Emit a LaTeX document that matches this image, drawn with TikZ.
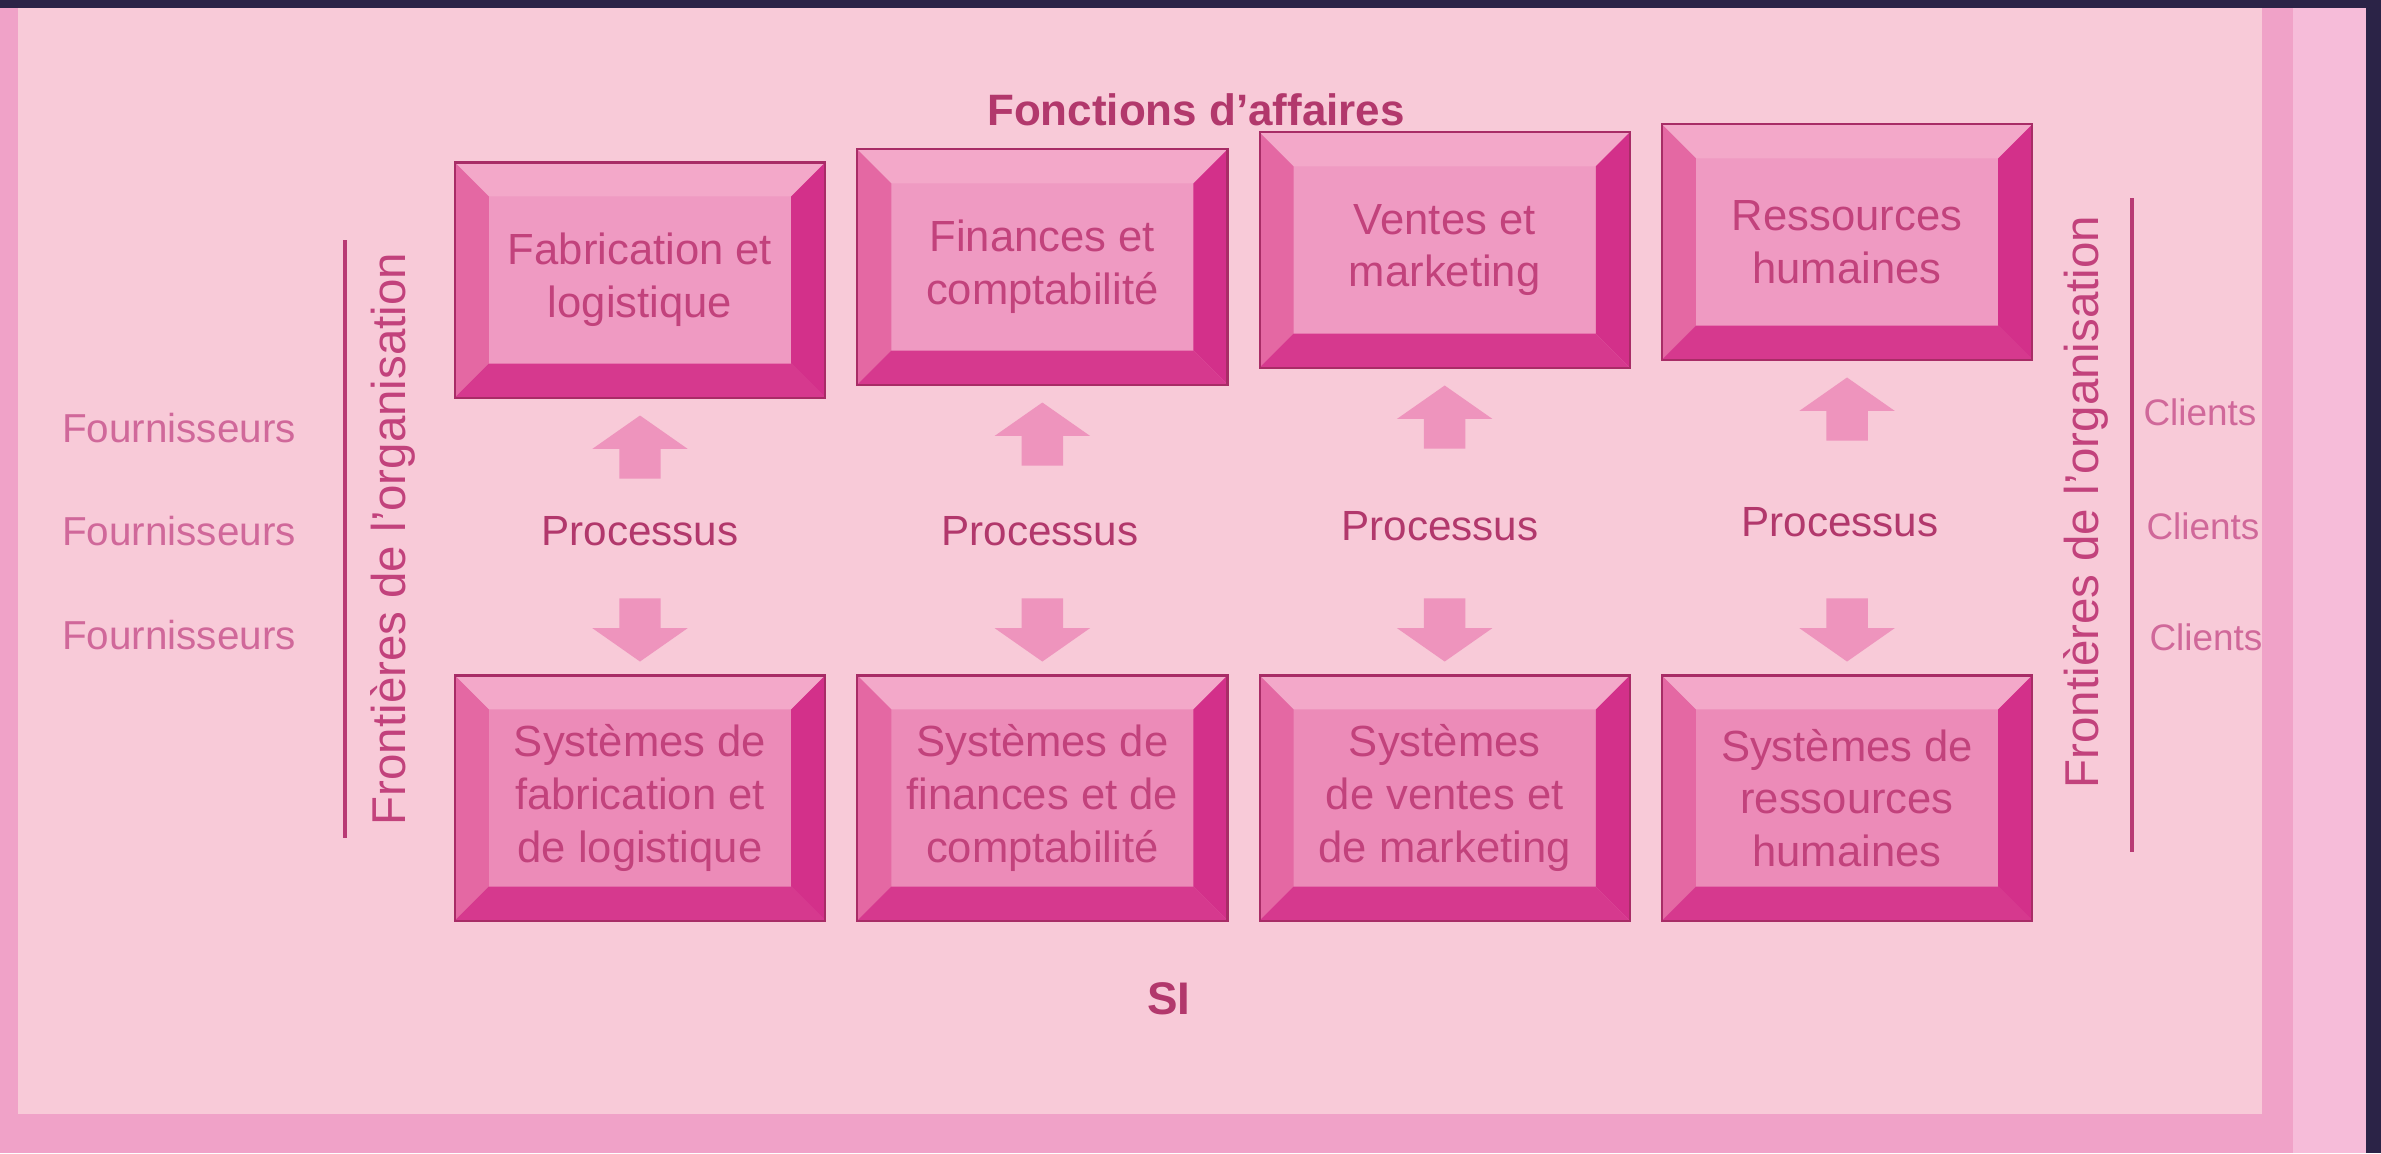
\documentclass[tikz,border=0pt]{standalone}
\usepackage{fontspec}
\setmainfont{Liberation Sans}
\usetikzlibrary{positioning,shapes.arrows}

\definecolor{papier}{HTML}{F8CAD8}
\definecolor{bord}{HTML}{F0A2C8}
\definecolor{bordclair}{HTML}{F6BCD9}
\definecolor{bande}{HTML}{2B2347}
\definecolor{boxface}{HTML}{EC8BB8}
\definecolor{boxfaceclair}{HTML}{EF9AC2}
\definecolor{bevtop}{HTML}{F3A8C9}
\definecolor{bevleft}{HTML}{E468A3}
\definecolor{bevright}{HTML}{D3308A}
\definecolor{bevbot}{HTML}{D6398E}
\definecolor{boxline}{HTML}{A82C66}
\definecolor{boxtext}{HTML}{C2427C}
\definecolor{textdark}{HTML}{B2386C}
\definecolor{sidetext}{HTML}{D0689A}
\definecolor{flechecol}{HTML}{EE94BD}
\definecolor{trait}{HTML}{B83A74}

\def\bev{0.34cm}

\tikzset{
  boite/.style={draw=boxline, line width=0.6pt, fill=boxface, text=boxtext,
    minimum width=3.7cm, minimum height=2.45cm, inner sep=0pt, align=center,
    font=\fontsize{12.4}{15}\selectfont,
    path picture={
      \fill[bevtop] (path picture bounding box.north west) -- (path picture bounding box.north east)
        -- ([shift={(-\bev,-\bev)}]path picture bounding box.north east)
        -- ([shift={(\bev,-\bev)}]path picture bounding box.north west) -- cycle;
      \fill[bevleft] (path picture bounding box.north west) -- ([shift={(\bev,-\bev)}]path picture bounding box.north west)
        -- ([shift={(\bev,\bev)}]path picture bounding box.south west)
        -- (path picture bounding box.south west) -- cycle;
      \fill[bevright] (path picture bounding box.north east) -- (path picture bounding box.south east)
        -- ([shift={(-\bev,\bev)}]path picture bounding box.south east)
        -- ([shift={(-\bev,-\bev)}]path picture bounding box.north east) -- cycle;
      \fill[bevbot] (path picture bounding box.south west) -- (path picture bounding box.south east)
        -- ([shift={(-\bev,\bev)}]path picture bounding box.south east)
        -- ([shift={(\bev,\bev)}]path picture bounding box.south west) -- cycle;
    }},
  fonction/.style={boite, fill=boxfaceclair, minimum height=2.35cm},
  systeme/.style={boite},
  fleche/.style={single arrow, fill=flechecol, draw=none, inner sep=0.2cm,
    minimum height=0.63cm, minimum width=0.94cm,
    single arrow head extend=0.27cm, single arrow tip angle=110},
  flechehaut/.style={fleche, shape border rotate=90},
  flechebas/.style={fleche, shape border rotate=270},
  processus/.style={text=textdark, font=\fontsize{12}{14}\selectfont},
  cote/.style={text=sidetext, font=\fontsize{11.5}{14}\selectfont},
  frontiere/.style={draw=trait, line width=1.2pt},
  frontexte/.style={rotate=90, text=boxtext, font=\fontsize{13.5}{16}\selectfont},
  titre/.style={text=textdark, font=\bfseries\fontsize{12.5}{15}\selectfont},
}

\begin{document}
\begin{tikzpicture}[x=0.01cm, y=-0.01cm]
    \useasboundingbox (0,0) rectangle (2381,1153);

    % page
    \fill[bord] (0,0) rectangle (2381,1153);
    \fill[papier] (18,8) rectangle (2262,1114);
    \fill[bordclair] (2293,8) rectangle (2366,1153);
    \fill[bande] (0,0) rectangle (2381,8);
    \fill[bande] (2366,0) rectangle (2381,1153);

    % fonctions d'affaires
    \node[fonction] (fab) at (640,280) {Fabrication et\\logistique};
    \node[fonction, right=0.3cm of fab, yshift=0.13cm] (fin) {Finances et\\comptabilité};
    \node[fonction, right=0.3cm of fin, yshift=0.17cm] (ven) {Ventes et\\marketing};
    \node[fonction, right=0.3cm of ven, yshift=0.08cm] (rh) {Ressources\\humaines};

    % systemes
    \node[systeme] (sfab) at (640,798) {Systèmes de\\fabrication et\\de logistique};
    \node[systeme, right=0.3cm of sfab] (sfin) {Systèmes de\\finances et de\\comptabilité};
    \node[systeme, right=0.3cm of sfin] (sven) {Systèmes\\de ventes et\\de marketing};
    \node[systeme, right=0.3cm of sven] (srh) {Systèmes de\\ressources\\humaines};

    \node[titre] (fa) at (1196,110) {Fonctions d'affaires};
    \node[titre, font=\bfseries\fontsize{13}{15}\selectfont] (si) at (1169,999) {SI};

    % processus
    \node[processus] (p1) at (640,531) {Processus};
    \node[processus] (p2) at (1040,531) {Processus};
    \node[processus] (p3) at (1440,526) {Processus};
    \node[processus] (p4) at (1840,522) {Processus};

    \node[flechehaut, below=0.16cm of fab] (h1) {};
    \node[flechehaut, below=0.16cm of fin] (h2) {};
    \node[flechehaut, below=0.16cm of ven] (h3) {};
    \node[flechehaut, below=0.16cm of rh] (h4) {};
    \node[flechebas, above=0.12cm of sfab] (b1) {};
    \node[flechebas, above=0.12cm of sfin] (b2) {};
    \node[flechebas, above=0.12cm of sven] (b3) {};
    \node[flechebas, above=0.12cm of srh] (b4) {};

    % frontieres
    \coordinate (fg1) at (345,240);
    \coordinate (fg2) at (345,838);
    \draw[frontiere] (fg1) -- (fg2);
    \node[frontexte] (fgt) at (393,539) {Frontières de l'organisation};

    \coordinate (fd1) at (2132,198);
    \coordinate (fd2) at (2132,852);
    \draw[frontiere] (fd1) -- (fd2);
    \node[frontexte] (fdt) at (2086,502) {Frontières de l'organisation};

    \node[cote] (f1) at (179,428) {Fournisseurs};
    \node[cote] (f2) at (179,531) {Fournisseurs};
    \node[cote] (f3) at (179,635) {Fournisseurs};

    \node[cote, font=\fontsize{10.5}{13}\selectfont] (c1) at (2200,412) {Clients};
    \node[cote, font=\fontsize{10.5}{13}\selectfont] (c2) at (2203,526) {Clients};
    \node[cote, font=\fontsize{10.5}{13}\selectfont] (c3) at (2206,637) {Clients};
\end{tikzpicture}
\end{document}
